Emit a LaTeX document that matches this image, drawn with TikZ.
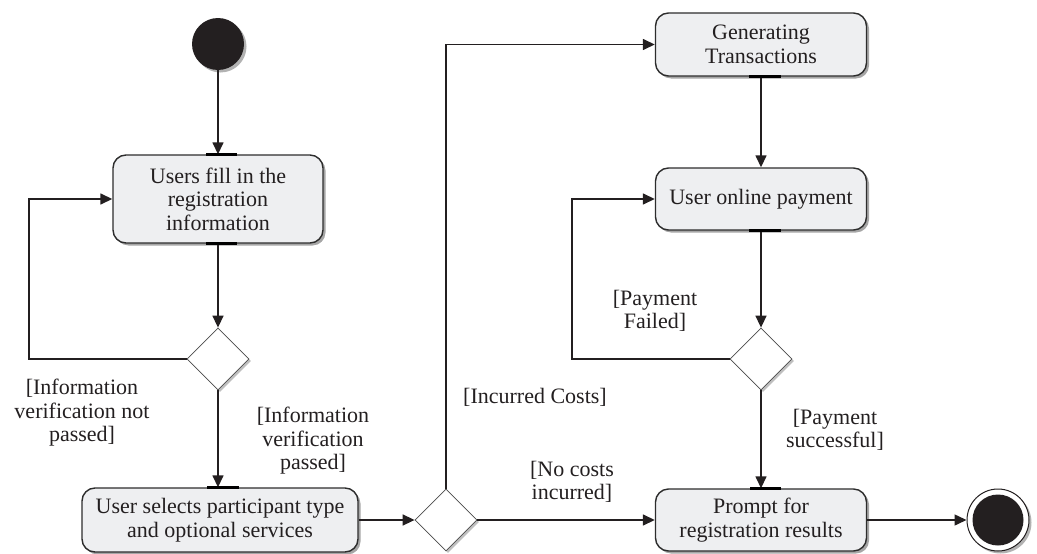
\documentclass[tikz,border=0pt]{standalone}
\usepackage{fontspec}
\setmainfont{Liberation Serif}
\usetikzlibrary{arrows.meta,shadows,shapes.geometric}
\definecolor{boxfill}{RGB}{238,239,241}
\definecolor{ink}{RGB}{35,31,32}
\definecolor{edge}{RGB}{45,45,45}
\tikzset{
  txt/.style={font=\fontsize{22}{23.5}\selectfont, text=ink},
  act/.style={txt, draw=edge, line width=1.4pt, rounded corners=13pt, fill=boxfill,
    align=center, inner sep=2pt,
    drop shadow={shadow xshift=2.5pt, shadow yshift=-2.5pt, opacity=0.35, fill=black}},
  dec/.style={diamond, aspect=1, draw=black!70, line width=0.8pt, fill=white, inner sep=0pt,
    minimum width=62pt, minimum height=62pt,
    drop shadow={shadow xshift=2pt, shadow yshift=-2pt, opacity=0.25, fill=black}},
  flow/.style={draw=ink, line width=1.5pt, -{Triangle[length=12pt,width=11pt]}},
  guard/.style={txt, align=center, inner sep=0pt},
  cbar/.style={draw=black, line width=3pt},
}
\begin{document}
\begin{tikzpicture}[x=1pt, y=-1pt]
\useasboundingbox (0,0) rectangle (1037,554);

% start / end
\node[circle, fill=ink, minimum size=52pt, inner sep=0pt,
  drop shadow={shadow xshift=2.5pt, shadow yshift=-2.5pt, opacity=0.3, fill=black}] (start) at (218,44) {};
\node[circle, fill=white, draw=ink, line width=1pt, minimum size=62pt, inner sep=0pt,
  drop shadow={shadow xshift=2.5pt, shadow yshift=-2.5pt, opacity=0.3, fill=black}] (end) at (998,520) {};
\node[circle, fill=ink, minimum size=51pt, inner sep=0pt] (endin) at (end.center) {};

% activities
\node[act, minimum width=210pt, minimum height=88pt] (fill) at (218,199)
  {Users fill in the\\registration\\information};
\node[act, minimum width=276pt, minimum height=64pt] (select) at (220,520)
  {User selects participant type\\and optional services};
\node[act, minimum width=211pt, minimum height=63pt] (gen) at (761,44.5)
  {Generating\\Transactions};
\node[act, minimum width=211pt, minimum height=62pt] (pay) at (761,199)
  {User online payment};
\node[act, minimum width=211pt, minimum height=62pt] (prompt) at (761,520)
  {Prompt for\\registration results};

% decisions
\node[dec] (d1) at (218,359) {};
\node[dec] (d2) at (446,520) {};
\node[dec] (d3) at (761,359) {};

% loop corners
\coordinate (l1) at (29,359);
\coordinate (l2) at (572,359);

% connectors
\draw[flow] (start) -- (fill.north);
\draw[flow] (fill.south) -- (d1.north);
\draw[flow] (d1.west) -- (l1) |- (fill.west);
\draw[flow] (d1.south) -- (d1.south |- select.north);
\draw[flow] (select.east) -- (d2.west);
\draw[flow] (d2.north) |- (gen.west);
\draw[flow] (d2.east) -- (prompt.west);
\draw[flow] (gen.south) -- (pay.north);
\draw[flow] (pay.south) -- (d3.north);
\draw[flow] (d3.west) -- (l2) |- (pay.west);
\draw[flow] (d3.south) -- (prompt.north);
\draw[flow] (prompt.east) -- (end.west);

% connection-point bars
\draw[cbar] ([xshift=-12pt]fill.north) -- ([xshift=19pt]fill.north);
\draw[cbar] ([xshift=-12pt]fill.south) -- ([xshift=19pt]fill.south);
\draw[cbar] ([xshift=-13pt]select.north) -- ([xshift=19pt]select.north);
\draw[cbar] ([xshift=-12pt]gen.south) -- ([xshift=20pt]gen.south);
\draw[cbar] ([xshift=-12pt]pay.south) -- ([xshift=20pt]pay.south);
\draw[cbar] ([xshift=-11pt]prompt.north) -- ([xshift=20pt]prompt.north);

% guards
\node[guard] (g1) at (82,413) {[Information\\verification not\\passed]};
\node[guard] (g2) at (313,441) {[Information\\verification\\passed]};
\node[guard] (g3) at (535,397) {[Incurred Costs]};
\node[guard] (g4) at (572,482) {[No costs\\incurred]};
\node[guard] (g5) at (655,311) {[Payment\\Failed]};
\node[guard] (g6) at (835,430) {[Payment\\successful]};
\end{tikzpicture}
\end{document}
